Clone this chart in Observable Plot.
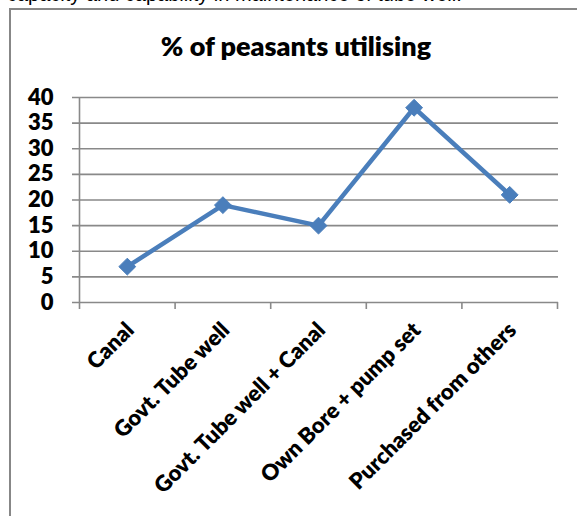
<!DOCTYPE html>
<html>
<head>
<meta charset="utf-8">
<script src="https://cdn.jsdelivr.net/npm/d3@7"></script>
<script src="https://cdn.jsdelivr.net/npm/@observablehq/plot@0.6"></script>
<style>
  html, body { margin: 0; padding: 0; background: #fff; }
  #wrap { position: relative; width: 577px; height: 516px; overflow: hidden; background: #fff; }
  #lead { position: absolute; left: 7px; top: -17px; white-space: nowrap;
          font: 20px "Liberation Sans", Arial, sans-serif; color: #000; }
  #box { position: absolute; left: 9px; top: 8px; width: 600px; height: 600px;
         border-left: 2px solid #878787; border-top: 2px solid #878787; }
  #title { position: absolute; left: 0; width: 592px; top: 29px; text-align: center; line-height: 1;
           font: 800 27px Lato, sans-serif; color: #000; }
  #chart { position: absolute; left: 0; top: 0; }
</style>
</head>
<body>
<div id="wrap">
  <div id="lead">capacity and capability in maintenance of tube well.</div>
  <div id="box"></div>
  <div id="title">% of peasants utilising</div>
  <div id="chart"></div>
</div>
<script>
// Sources of irrigation water and the share of peasants using each
const categories = ["Canal", "Govt. Tube well", "Govt. Tube well + Canal", "Own Bore + pump set", "Purchased from others"];
const values = [7, 19, 15, 38, 21];
const yTicks = [0, 5, 10, 15, 20, 25, 30, 35, 40];

const data = categories.map((c, i) => ({category: c, value: values[i], pos: i + 0.5}));
const bounds = d3.range(categories.length + 1);

const grey = "#898989";
const blue = "#4A7EBB";
const labelFont = "Lato, sans-serif";

const plot = Plot.plot({
  width: 577,
  height: 516,
  marginLeft: 79,
  marginRight: 20,
  marginTop: 97,
  marginBottom: 214,
  style: {background: "transparent", overflow: "visible"},
  x: {type: "linear", domain: [0, categories.length], axis: null},
  y: {domain: [0, 40], axis: null},
  marks: [
    // horizontal gridlines with their left tick stubs
    Plot.ruleY(yTicks, {y: d => d, x1: 0, x2: categories.length, stroke: grey, strokeWidth: 1.6, insetLeft: -7, insetRight: -1}),
    // category boundary ticks below the baseline
    Plot.ruleX(bounds, {x: d => d, y1: 0, y2: 0, stroke: grey, strokeWidth: 1.6, insetBottom: -7}),
    // vertical axis line
    Plot.ruleX([0], {x: d => d, y1: 0, y2: 40, stroke: grey, strokeWidth: 1.6}),
    // y tick labels
    Plot.text(yTicks, {x: 0, y: d => d, text: d => String(d), textAnchor: "end", dx: -26,
      fontSize: 22, fontWeight: 800, fontFamily: labelFont, fill: "#000"}),
    // category labels
    Plot.text(data, {x: "pos", y: 0, text: "category", rotate: -45, textAnchor: "end", dx: 3, dy: 24,
      fontSize: 22, fontWeight: 800, fontFamily: labelFont, fill: "#000"}),
    // the series
    Plot.line(data, {x: "pos", y: "value", stroke: blue, strokeWidth: 4.5, strokeLinejoin: "round"}),
    Plot.dot(data, {x: "pos", y: "value", symbol: "diamond2", r: 7.6, fill: blue, stroke: blue, strokeWidth: 1})
  ]
});
document.getElementById("chart").appendChild(plot);
</script>
</body>
</html>
